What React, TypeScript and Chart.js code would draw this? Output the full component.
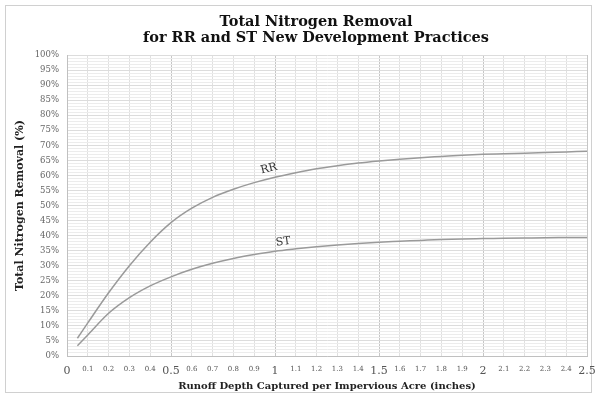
import React, { useEffect, useRef } from 'react';
import { Chart, registerables } from 'chart.js';

Chart.register(...registerables);

// Runoff depth captured per impervious acre (inches)
const depthInches = [0.05, 0.1, 0.2, 0.3, 0.4, 0.5, 0.6, 0.7, 0.8, 0.9, 1.0, 1.1, 1.2, 1.3, 1.4, 1.5, 1.6, 1.7, 1.8, 1.9, 2.0, 2.1, 2.2, 2.3, 2.4, 2.5];
// Total nitrogen removal (%)
const rrRemoval = [5.9, 11.0, 21.0, 30.0, 37.8, 44.3, 49.1, 52.7, 55.4, 57.6, 59.4, 60.9, 62.2, 63.2, 64.1, 64.8, 65.4, 65.9, 66.3, 66.7, 67.0, 67.2, 67.4, 67.6, 67.8, 68.0];
const stRemoval = [3.4, 7.0, 14.2, 19.4, 23.3, 26.3, 28.8, 30.8, 32.4, 33.7, 34.8, 35.6, 36.3, 36.9, 37.4, 37.8, 38.1, 38.4, 38.7, 38.9, 39.0, 39.1, 39.2, 39.3, 39.35, 39.4];

const seriesNames = ['RR', 'ST'];
const curveLabelX = [0.97, 1.04];
const curveLabelY = [62.2, 37.9];
const curveLabelAngle = [-14, -7.5];

const titleLines = ['Total Nitrogen Removal', 'for RR and ST New Development Practices'];
const xAxisTitle = 'Runoff Depth Captured per Impervious Acre (inches)';
const yAxisTitle = 'Total Nitrogen Removal (%)';

const X_MIN = 0;
const X_MAX = 2.5;
const X_STEP = 0.1;
const Y_MIN = 0;
const Y_MAX = 100;
const Y_STEP = 1;
const Y_LABEL_EVERY = 5;

const SERIF = '"DejaVu Serif", "Liberation Serif", serif';

const framePlugin = {
  id: 'frame',
  beforeDraw(chart: any) {
    const { ctx, width, height } = chart;
    ctx.save();
    ctx.fillStyle = '#ffffff';
    ctx.fillRect(0, 0, width, height);
    ctx.strokeStyle = '#d0d0d0';
    ctx.lineWidth = 1;
    ctx.strokeRect(5.5, 5.5, width - 11, height - 10);
    ctx.restore();
  },
  afterDraw(chart: any) {
    const { ctx } = chart;
    ctx.save();
    ctx.fillStyle = '#111111';
    ctx.textAlign = 'center';
    ctx.textBaseline = 'middle';
    ctx.font = `bold 14.5px ${SERIF}`;
    const cx = 316;
    ctx.fillText(titleLines[0], cx, 22);
    ctx.fillText(titleLines[1], cx, 38);
    // curve labels
    const xs = chart.scales.x;
    const ys = chart.scales.y;
    ctx.font = `11px ${SERIF}`;
    ctx.fillStyle = '#333333';
    for (let i = 0; i < seriesNames.length; i++) {
      const px = xs.getPixelForValue(curveLabelX[i]);
      const py = ys.getPixelForValue(curveLabelY[i]);
      ctx.save();
      ctx.translate(px, py);
      ctx.rotate((curveLabelAngle[i] * Math.PI) / 180);
      ctx.fillText(seriesNames[i], 0, 0);
      ctx.restore();
    }
    ctx.restore();
  },
};

function xLabel(v: number): string {
  const t = Math.round(v * 10);
  if (t === 0) return '0';
  if (t % 10 === 0) return String(t / 10);
  return (t / 10).toFixed(1);
}

export default function App() {
  const canvasRef = useRef<HTMLCanvasElement | null>(null);

  useEffect(() => {
    if (!canvasRef.current) return;
    const lineStyle = {
      borderColor: '#9a9a9a',
      borderWidth: 1.5,
      pointRadius: 0,
      cubicInterpolationMode: 'monotone',
      fill: false,
    };
    const chart = new Chart(canvasRef.current, {
      type: 'line',
      data: {
        datasets: [
          {
            label: seriesNames[0],
            data: depthInches.map((x, i) => ({ x, y: rrRemoval[i] })),
            ...lineStyle,
          },
          {
            label: seriesNames[1],
            data: depthInches.map((x, i) => ({ x, y: stRemoval[i] })),
            ...lineStyle,
          },
        ],
      },
      options: {
        responsive: false,
        animation: false,
        layout: { padding: { left: 10, right: 10, top: 55, bottom: 2 } },
        plugins: {
          legend: { display: false },
          title: { display: false },
          tooltip: { enabled: false },
        },
        scales: {
          x: {
            type: 'linear',
            min: X_MIN,
            max: X_MAX,
            afterFit(scale: any) {
              scale.height = 39;
              scale.paddingLeft = 0;
              scale.paddingRight = 0;
            },
            ticks: {
              stepSize: X_STEP,
              autoSkip: false,
              maxRotation: 0,
              padding: 9,
              color: '#555555',
              callback: (v: any) => xLabel(Number(v)),
              font: (ctx: any) => {
                const t = Math.round((ctx.tick ? ctx.tick.value : 0) * 10);
                return t % 5 === 0
                  ? { family: SERIF, size: 11 }
                  : { family: SERIF, size: 7 };
              },
            },
            grid: {
              drawTicks: false,
              color: (ctx: any) => {
                const t = Math.round((ctx.tick ? ctx.tick.value : 0) * 10);
                return t % 5 === 0 ? '#c6c6c6' : '#e0e0e0';
              },
              lineWidth: 1,
            },
            border: { display: true, color: '#c0c0c0' },
            title: {
              display: true,
              text: xAxisTitle,
              color: '#222222',
              font: { family: SERIF, size: 10, weight: 'bold' },
              padding: { top: 2, bottom: 3 },
            },
          },
          y: {
            type: 'linear',
            min: Y_MIN,
            max: Y_MAX,
            afterFit(scale: any) {
              scale.width = 57;
            },
            ticks: {
              stepSize: Y_STEP,
              autoSkip: false,
              padding: 8,
              color: '#666666',
              font: { family: SERIF, size: 8.5 },
              callback: (v: any) => {
                const n = Math.round(Number(v));
                return n % Y_LABEL_EVERY === 0 ? `${n}%` : '';
              },
            },
            grid: {
              drawTicks: false,
              color: (ctx: any) => {
                const n = Math.round(ctx.tick ? ctx.tick.value : 0);
                return n % Y_LABEL_EVERY === 0 ? '#dcdcdc' : '#ececec';
              },
              lineWidth: 1,
            },
            border: { display: true, color: '#c0c0c0' },
            title: {
              display: true,
              text: yAxisTitle,
              color: '#222222',
              font: { family: SERIF, size: 11, weight: 'bold' },
              padding: { top: 4, bottom: 2 },
            },
          },
        },
      },
      plugins: [framePlugin],
    } as any);
    return () => chart.destroy();
  }, []);

  return (
    <div style={{ position: 'absolute', left: 0, top: 0, width: 597, height: 397 }}>
      <canvas ref={canvasRef} width={597} height={397} />
    </div>
  );
}
